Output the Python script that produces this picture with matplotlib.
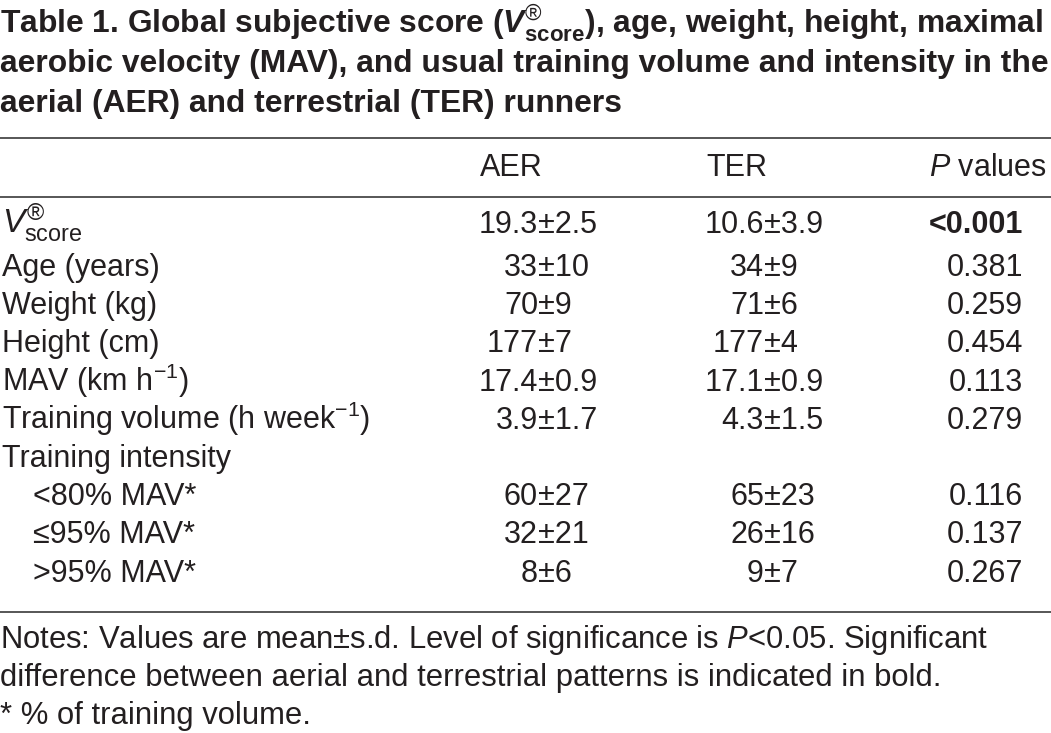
import matplotlib
matplotlib.use("Agg")
import matplotlib.pyplot as plt

plt.rcParams['font.family'] = ['Liberation Sans', 'DejaVu Sans']
plt.rcParams['mathtext.fontset'] = 'custom'
plt.rcParams['mathtext.rm'] = 'Liberation Sans'
plt.rcParams['mathtext.it'] = 'Liberation Sans:italic'
plt.rcParams['mathtext.bf'] = 'Liberation Sans:bold'
plt.rcParams['mathtext.bfit'] = 'Liberation Sans:bold:italic'

# --- table content ---
title_lines = [
    r"Table 1. Global subjective score ($\mathbfit{V}^{\mathrm{®}}_{\mathbf{score}}$), age, weight, height, maximal",
    "aerobic velocity (MAV), and usual training volume and intensity in the",
    "aerial (AER) and terrestrial (TER) runners",
]
col_headers = ["AER", "TER", r"$\mathit{P}$ values"]
row_labels = [
    r"$\mathit{V}^{®}_{\mathrm{score}}$",
    "Age (years)",
    "Weight (kg)",
    "Height (cm)",
    r"MAV (km h$^{-1}$)",
    r"Training volume (h week$^{-1}$)",
    "Training intensity",
    "<80% MAV*",
    "≤95% MAV*",
    ">95% MAV*",
]
row_indent = [0, 0, 0, 0, 0, 0, 0, 1, 1, 1]
aer = ["19.3±2.5", "33±10", "70±9", "177±7", "17.4±0.9", "3.9±1.7", "",
       "60±27", "32±21", "8±6"]
ter = ["10.6±3.9", "34±9", "71±6", "177±4", "17.1±0.9", "4.3±1.5", "",
       "65±23", "26±16", "9±7"]
p_values = ["<0.001", "0.381", "0.259", "0.454", "0.113", "0.279", "",
            "0.116", "0.137", "0.267"]
notes = [
    r"Notes: Values are mean±s.d. Level of significance is $\mathit{P}$<0.05. Significant",
    "difference between aerial and terrestrial patterns is indicated in bold.",
    "* % of training volume.",
]

ink = '#231f20'
rule = '#3a3a3a'
fs = 22

W, H = 1051, 733
fig = plt.figure(figsize=(W / 100, H / 100), dpi=100)
ax = fig.add_axes([0, 0, 1, 1])
ax.set_xlim(0, W)
ax.set_ylim(H, 0)
ax.axis('off')

# title
for i, line in enumerate(title_lines):
    ax.text(0, 33 + i * 39.3, line, fontsize=22.9, fontweight='bold',
            color=ink, va='baseline', ha='left')

# rules
for y in (137.5, 197, 612):
    ax.plot([0, W], [y, y], color=rule, lw=1.2, solid_capstyle='butt')

# headers
ax.text(480, 176, col_headers[0], fontsize=fs, color=ink, va='baseline')
ax.text(706, 176, col_headers[1], fontsize=fs, color=ink, va='baseline')
ax.text(1047, 176, col_headers[2], fontsize=fs, color=ink, va='baseline', ha='right')


def pm_cell(x_pm, y, s):
    # align the value on its ± sign
    if not s:
        return
    left, right = s.split("±")
    ax.text(x_pm, y, left, fontsize=fs, color=ink, va='baseline', ha='right')
    ax.text(x_pm, y, "±" + right, fontsize=fs, color=ink, va='baseline', ha='left')


for i, label in enumerate(row_labels):
    y = 233 if i == 0 else 276 + (i - 1) * 38.2
    size = fs + 2 if i == 0 else fs
    ax.text(2 + 31 * row_indent[i], y, label, fontsize=size, color=ink, va='baseline')
    pm_cell(538, y, aer[i])
    pm_cell(764, y, ter[i])
    if p_values[i]:
        bold = p_values[i].startswith("<") or float(p_values[i]) < 0.05
        ax.text(1023, y, p_values[i], fontsize=fs, color=ink, va='baseline',
                ha='right', fontweight='bold' if bold else 'normal')

for i, line in enumerate(notes):
    ax.text(0, 648 + i * 38, line, fontsize=22.3, color=ink, va='baseline')

fig.savefig("out.png", dpi=100)
